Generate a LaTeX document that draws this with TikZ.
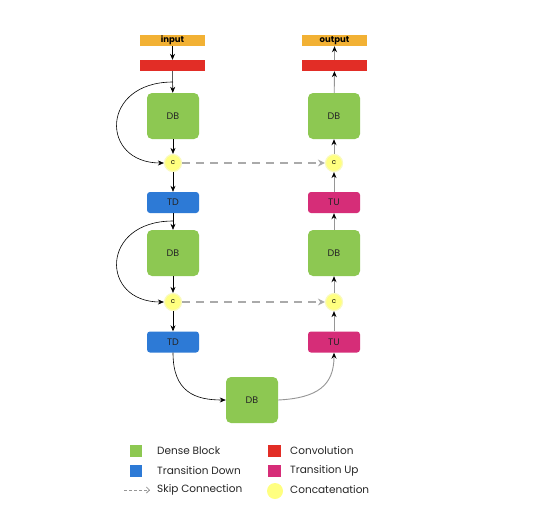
\documentclass[tikz,border=0pt]{standalone}
\usepackage{fontspec}
\setmainfont{Poppins}
\usetikzlibrary{arrows.meta}
\definecolor{cOrange}{RGB}{242,177,52}
\definecolor{cRed}{RGB}{226,45,38}
\definecolor{cGreen}{RGB}{141,200,82}
\definecolor{cBlue}{RGB}{45,122,214}
\definecolor{cMag}{RGB}{214,45,120}
\definecolor{cYel}{RGB}{255,255,128}
\definecolor{cYelB}{RGB}{250,250,190}
\definecolor{cGray}{RGB}{170,170,170}
\definecolor{cLine}{RGB}{150,150,150}
\tikzset{
  x=1pt,y=-1pt,
  flat/.style={minimum width=65pt,minimum height=11pt,inner sep=0pt,font=\fontsize{8.5}{9}\selectfont\bfseries},
  dbbox/.style={fill=cGreen,rounded corners=5pt,minimum width=52pt,minimum height=46pt,inner sep=0pt,font=\fontsize{9.5}{10}\selectfont,text=black!85},
  trbox/.style={rounded corners=3pt,minimum width=52pt,minimum height=21pt,inner sep=0pt,font=\fontsize{9.5}{10}\selectfont,text=black!85},
  cat/.style={circle,fill=cYel,draw=cYelB,line width=1.2pt,minimum size=17pt,inner sep=0pt,font=\fontsize{7}{7}\selectfont},
  blk/.style={-{Stealth[length=6pt,width=5pt]},black,line width=0.6pt},
  gry/.style={cLine,line width=0.9pt,-{Stealth[length=6pt,width=5pt,black]}},
  skip/.style={cGray,line width=2pt,dash pattern=on 8pt off 6pt,-{Stealth[length=7pt,width=7pt,cGray]}},
  lgtext/.style={anchor=west,inner sep=0pt,font=\fontsize{10.5}{12}\selectfont,text=black!85},
  lgsq/.style={minimum size=12.5pt,inner sep=0pt}
}
\begin{document}
\begin{tikzpicture}
\useasboundingbox[fill=white] (0,0) rectangle (540,512);
% left column
\node[flat,fill=cOrange] (in) at (172.5,40.5) {input};
\node[flat,fill=cRed] (convL) at (172.5,65.5) {};
\node[dbbox] (db1) at (173,116) {DB};
\node[cat] (c1) at (173,163) {c};
\node[trbox,fill=cBlue] (td1) at (173,202.5) {TD};
\node[dbbox] (db2) at (173,253) {DB};
\node[cat] (c2) at (173,302) {c};
\node[trbox,fill=cBlue] (td2) at (173,342) {TD};
% bottom
\node[dbbox] (db3) at (252,400) {DB};
% right column
\node[flat,fill=cOrange] (out) at (334.5,40.5) {output};
\node[flat,fill=cRed] (convR) at (334.5,65.5) {};
\node[dbbox] (db5) at (334,116) {DB};
\node[cat] (c4) at (334,163) {c};
\node[trbox,fill=cMag] (tu2) at (334,202.5) {TU};
\node[dbbox] (db4) at (334,253) {DB};
\node[cat] (c3) at (334,302) {c};
\node[trbox,fill=cMag] (tu1) at (334,342) {TU};
% left arrows
\draw[blk] (in) -- (convL);
\draw[blk] (convL) -- (db1);
\draw[blk] (db1) -- (c1);
\draw[blk] (c1) -- (td1);
\draw[blk] (td1) -- (db2);
\draw[blk] (db2) -- (c2);
\draw[blk] (c2) -- (td2);
\coordinate (s1) at (173,82);
\coordinate (s2) at (173,221);
\draw[blk] (s1) .. controls (100,82) and (100,163) .. (c1.west);
\draw[blk] (s2) .. controls (100,221) and (100,302) .. (c2.west);
% bottom arrows
\draw[blk] (td2.south) .. controls (173,392) and (195,400) .. (db3.west);
\draw[gry] (db3.east) .. controls (318,398) and (334,385) .. (tu1.south);
% right arrows
\draw[gry] (tu1) -- (c3);
\draw[gry] (c3) -- (db4);
\draw[gry] (db4) -- (tu2);
\draw[gry] (tu2) -- (c4);
\draw[gry] (c4) -- (db5);
\draw[gry] (db5) -- (convR);
\draw[gry] (convR) -- (out);
% skip connections
\draw[skip] (c1.east) -- (c4.west);
\draw[skip] (c2.east) -- (c3.west);
% legend
\node[lgsq,fill=cGreen] (lg1) at (136,451) {};
\node[lgsq,fill=cBlue] (lg2) at (136,471) {};
\coordinate (lga) at (124,490);
\coordinate (lgb) at (150,490);
\draw[cLine,line width=0.8pt,dash pattern=on 3pt off 2pt,-{Straight Barb[length=3pt,width=6pt]}] (lga) -- (lgb);
\node[lgtext] (t1) at (157,451) {Dense Block};
\node[lgtext] (t2) at (157,471) {Transition Down};
\node[lgtext] (t3) at (157,490) {Skip Connection};
\node[lgsq,fill=cRed] (lg4) at (274.5,451) {};
\node[lgsq,fill=cMag] (lg5) at (274.5,471) {};
\node[circle,fill=cYel,minimum size=16pt,inner sep=0pt] (lg6) at (275,491) {};
\node[lgtext] (t4) at (290,451) {Convolution};
\node[lgtext] (t5) at (290,471) {Transition Up};
\node[lgtext] (t6) at (290,490) {Concatenation};
\end{tikzpicture}
\end{document}
